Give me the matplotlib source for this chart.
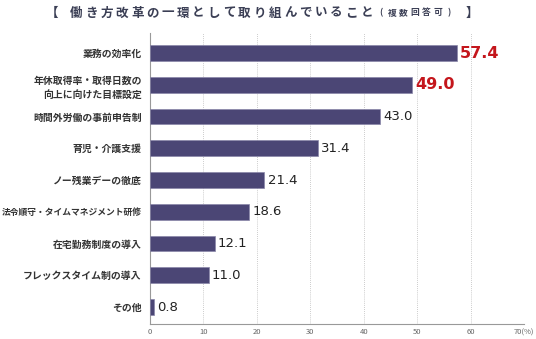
import matplotlib
matplotlib.use("Agg")
import matplotlib.pyplot as plt

categories = ["業務の効率化", "年休取得率・取得日数の\n向上に向けた目標設定", "時間外労働の事前申告制",
              "育児・介護支援", "ノー残業デーの徹底", "法令順守・タイムマネジメント研修",
              "在宅勤務制度の導入", "フレックスタイム制の導入", "その他"]
values = [57.4, 49.0, 43.0, 31.4, 21.4, 18.6, 12.1, 11.0, 0.8]
highlight = [True, True, False, False, False, False, False, False, False]
xticks = [0, 10, 20, 30, 40, 50, 60, 70]
xticklabels = ["0", "10", "20", "30", "40", "50", "60", "70(%)"]
title_main = "働き方改革の一環として取り組んでいること"
title_small = "(複数回答可)"

plt.rcParams['font.family'] = ['Noto Sans CJK JP', 'DejaVu Sans']
W, H = 536, 339
fig = plt.figure(figsize=(W/100, H/100), dpi=100)
ax = fig.add_axes([150/W, 1-324/H, 374/W, (324-33)/H])

ys = list(range(len(categories)))
ax.barh(ys, values, height=0.5, color="#4b4675", edgecolor="#8a86a8", linewidth=0.5, zorder=3)
ax.set_xlim(0, 70)
ax.set_ylim(8.535, -0.63)

numfont = ["Liberation Sans Narrow", "DejaVu Sans"]
for y, v, h in zip(ys, values, highlight):
    if h:
        ax.text(v + 0.6, y, f"{v:.1f}", va="center", ha="left", fontsize=11.5, fontweight="bold",
                color="#c4161c", family=numfont, zorder=4)
    else:
        ax.text(v + 0.6, y, f"{v:.1f}", va="center", ha="left", fontsize=9.5,
                color="#222222", family=numfont, zorder=4)

ax.set_yticks(ys)
ax.set_yticklabels(categories, fontsize=7.1, fontweight="bold", color="#333333", linespacing=1.5)
for lab in ax.get_yticklabels():
    if len(lab.get_text()) > 13 and "\n" not in lab.get_text():
        lab.set_fontsize(6.3)
ax.tick_params(axis="y", length=0, pad=6)

ax.set_xticks(xticks)
ax.set_xticklabels(xticklabels, fontsize=5.5, color="#666666")
ax.tick_params(axis="x", length=0, pad=3)

for t in xticks[1:]:
    ax.axvline(t, color="#bbbbbb", linewidth=0.6, linestyle=(0, (1, 1.5)), zorder=1)

for s in ["top", "right"]:
    ax.spines[s].set_visible(False)
for s in ["left", "bottom"]:
    ax.spines[s].set_color("#999999")
    ax.spines[s].set_linewidth(0.8)

tcol = "#3b3f55"
ty = 1 - 13/H
fig.text(46/W, ty, "【", fontsize=9, fontweight="bold", color=tcol, va="center", ha="left")
for i, ch in enumerate(title_main):
    fig.text((76 + 15.3*i)/W, ty, ch, fontsize=9, fontweight="bold", color=tcol, va="center", ha="center")
for i, ch in enumerate(title_small):
    fig.text((381 + 11.3*i)/W, ty, ch, fontsize=6.3, fontweight="bold", color=tcol, va="center", ha="center")
fig.text(478/W, ty, "】", fontsize=9, fontweight="bold", color=tcol, va="center", ha="right")

fig.savefig("out.png", dpi=100)
